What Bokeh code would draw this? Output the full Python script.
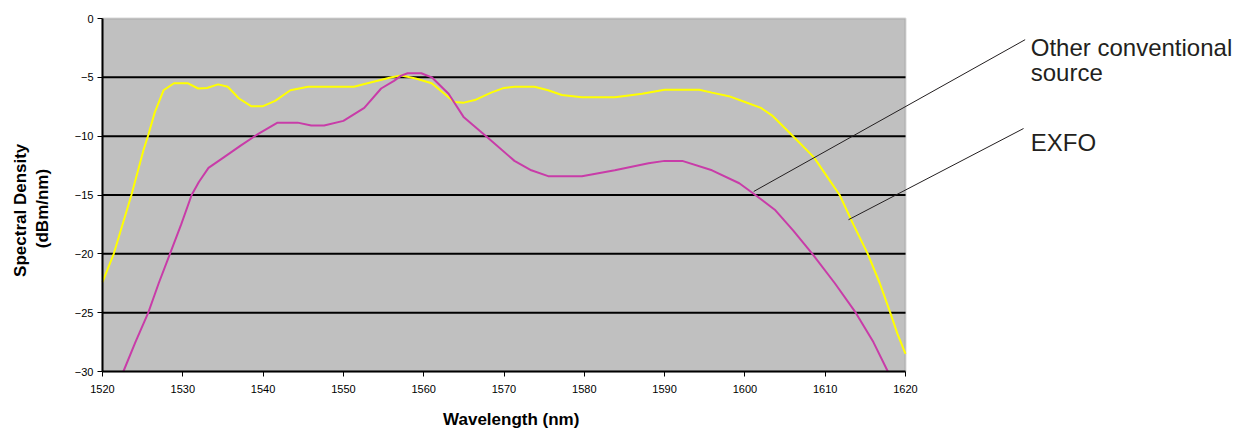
import math
from bokeh.plotting import figure
from bokeh.models import Range1d, FixedTicker, Label, Arrow, BoxAnnotation
from bokeh.embed import file_html
from bokeh.resources import INLINE

# EXFO source (yellow)
exfo_wl = [1520, 1521.4, 1523.6, 1525.1, 1525.7, 1526.5, 1527.6, 1528.9, 1530.6, 1531.9,
           1533, 1534.4, 1535.6, 1537, 1538.5, 1540, 1541.5, 1543.4, 1545.6, 1551.3,
           1553, 1556, 1557.2, 1559, 1561, 1563.8, 1565, 1566.5, 1568.4, 1570,
           1571.3, 1573.8, 1575.5, 1577.2, 1579.7, 1583.8, 1587.2, 1590, 1594.3, 1595.9,
           1598, 1600, 1602, 1603.4, 1605.9, 1608.6, 1610.3, 1611.8, 1613.5, 1615.3,
           1616.8, 1618.1, 1619, 1620]
exfo_db = [-22.4, -20, -15, -11.2, -9.9, -8.0, -6.1, -5.5, -5.5, -5.95,
           -5.9, -5.6, -5.8, -6.8, -7.45, -7.45, -7.0, -6.1, -5.8, -5.8,
           -5.5, -5.0, -4.85, -5.1, -5.5, -7.1, -7.15, -6.9, -6.3, -5.9,
           -5.8, -5.8, -6.1, -6.5, -6.7, -6.7, -6.4, -6.05, -6.05, -6.3,
           -6.6, -7.1, -7.6, -8.25, -9.94, -11.8, -13.5, -15.0, -17.5, -20,
           -22.5, -25, -26.8, -28.5]

# Other conventional source (magenta)
other_wl = [1522.6, 1524.1, 1525.7, 1527, 1528.4, 1529.8, 1531.1, 1532, 1533.2, 1535.1,
            1537.2, 1539.4, 1541.8, 1544.3, 1546, 1547.6, 1550, 1552.6, 1554.7, 1556.3,
            1557.2, 1558, 1559.7, 1561, 1563.1, 1565, 1568.1, 1571.3, 1573.4, 1575.5,
            1579.7, 1583.8, 1588, 1590, 1592.2, 1595.9, 1599.3, 1601.3, 1603.8, 1606,
            1608.4, 1611.2, 1613.8, 1616, 1617.8]
other_db = [-30, -27.5, -25, -22.5, -20, -17.5, -15, -13.9, -12.7, -11.8,
            -10.8, -9.8, -8.85, -8.85, -9.1, -9.1, -8.7, -7.6, -5.95, -5.3,
            -4.85, -4.65, -4.65, -5.0, -6.4, -8.4, -10.2, -12.1, -12.9, -13.4,
            -13.4, -12.9, -12.3, -12.1, -12.1, -12.9, -14.0, -15.0, -16.3, -18.0,
            -20, -22.5, -25, -27.5, -30]

x_ticks = [1520, 1530, 1540, 1550, 1560, 1570, 1580, 1590, 1600, 1610, 1620]
y_ticks = [0, -5, -10, -15, -20, -25, -30]
grid_ticks = [-5, -10, -15, -20, -25]

X_MIN, X_MAX = 1520, 1620
Y_MIN, Y_MAX = -30, 0

# canvas geometry: the whole canvas is the frame; the chart panel sits inside it
W, H = 1248, 429
PANEL_LEFT, PANEL_TOP = 102, 18
PX_PER_NM = 8.03
PX_PER_DB = 353 / 30
x_view = (X_MIN - PANEL_LEFT / PX_PER_NM, X_MIN + (W - PANEL_LEFT) / PX_PER_NM)
y_view = (Y_MAX - (H - PANEL_TOP) / PX_PER_DB, Y_MAX + PANEL_TOP / PX_PER_DB)

p = figure(width=W, height=H, output_backend="svg", toolbar_location=None,
           x_range=Range1d(*x_view), y_range=Range1d(*y_view), min_border=0)

p.background_fill_color = "white"
p.border_fill_color = "white"
p.outline_line_color = None

# plot area (gray panel with gray border)
p.add_layout(BoxAnnotation(left=X_MIN, right=X_MAX, bottom=Y_MIN, top=Y_MAX,
                           fill_color="#c0c0c0", fill_alpha=1,
                           line_color="#808080", line_width=2, level="image"))

p.xaxis.ticker = FixedTicker(ticks=x_ticks)
p.xaxis.bounds = (X_MIN, X_MAX)
p.xaxis.fixed_location = Y_MIN
p.yaxis.ticker = FixedTicker(ticks=y_ticks)
p.yaxis.bounds = (Y_MIN, Y_MAX)
p.yaxis.fixed_location = X_MIN
for ax in (p.xaxis[0], p.yaxis[0]):
    ax.axis_line_color = "black"
    ax.axis_line_width = 2
    ax.major_tick_line_color = "black"
    ax.major_tick_line_width = 1
    ax.major_tick_out = 5
    ax.major_tick_in = 0
    ax.minor_tick_line_color = None
    ax.major_label_text_font = "Liberation Sans"
    ax.major_label_text_font_size = "11px"
    ax.major_label_text_color = "black"

p.xaxis.major_label_standoff = 8
p.yaxis.major_label_standoff = 4

p.xgrid.grid_line_color = None
p.ygrid.grid_line_color = None

# horizontal grid lines across the plot panel only
p.segment(x0=X_MIN, y0=grid_ticks, x1=X_MAX, y1=grid_ticks, line_color="black", line_width=2)

p.line(exfo_wl, exfo_db, line_color="#ffff00", line_width=2)
p.line(other_wl, other_db, line_color="#c83ca8", line_width=2)

# axis titles
title_style = dict(text_font="Liberation Sans", text_font_style="bold",
                   text_font_size="17px", text_color="black",
                   text_align="center", text_baseline="middle")
p.add_layout(Label(x=1570.9, y=-34.08, text="Wavelength (nm)", **title_style))
p.add_layout(Label(x=1509.8, y=-16.3, text="Spectral Density", angle=math.pi / 2, **title_style))
p.add_layout(Label(x=1512.55, y=-16.15, text="(dBm/nm)", angle=math.pi / 2, **title_style))

# callouts
ann_color = "#231f20"
p.add_layout(Arrow(x_start=1601.1, y_start=-14.7, x_end=1634.9, y_end=-1.8, end=None,
                   line_color=ann_color, line_width=1))
p.add_layout(Arrow(x_start=1612.9, y_start=-17.1, x_end=1634.7, y_end=-9.35, end=None,
                   line_color=ann_color, line_width=1))
for txt, yy in (("Other conventional", -2.45), ("source", -4.6), ("EXFO", -10.55)):
    p.add_layout(Label(x=1635.6, y=yy, text=txt, text_align="left", text_baseline="alphabetic",
                       text_font="Liberation Sans", text_font_size="24px", text_color=ann_color))

open("out.html", "w").write(file_html(p, INLINE))
